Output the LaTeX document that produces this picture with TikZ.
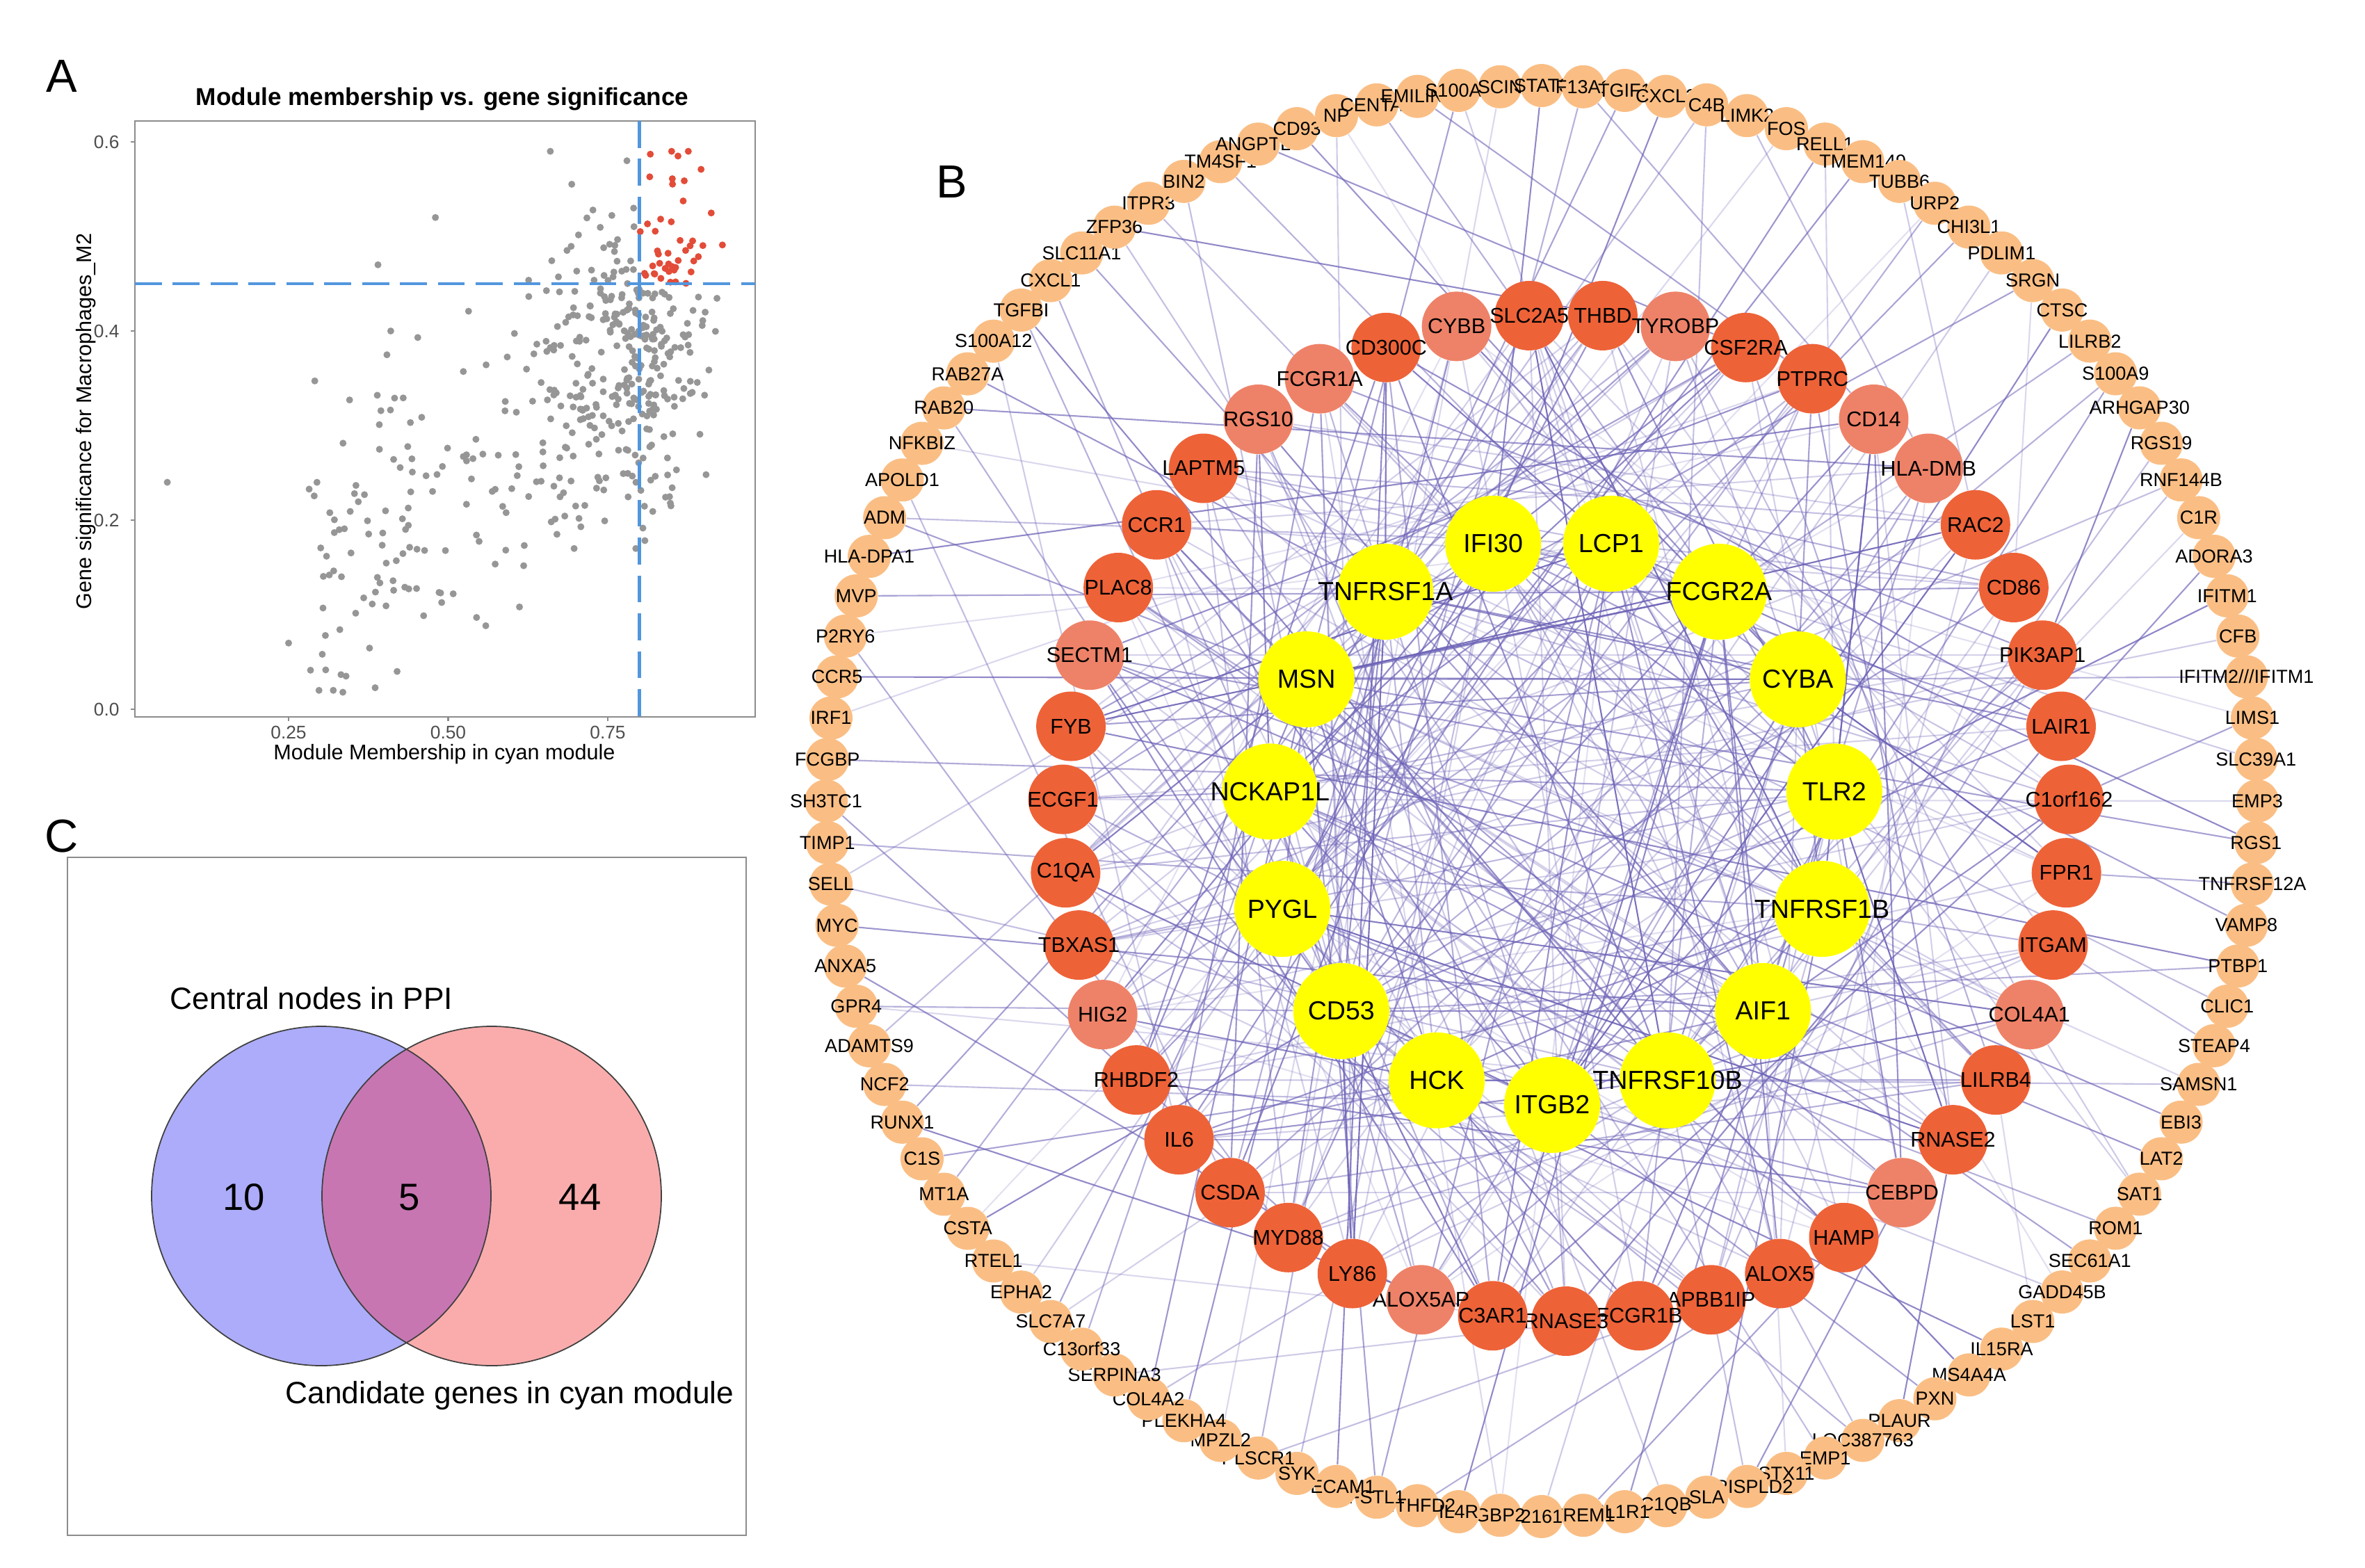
\documentclass[tikz,border=0pt]{standalone}
\usepackage{fontspec}
\setmainfont{Liberation Sans}
\usetikzlibrary{backgrounds, calc}

\definecolor{periphfill}{RGB}{250,190,132}
\definecolor{hubred}{RGB}{238,98,56}
\definecolor{hublight}{RGB}{238,130,104}
\definecolor{coreyellow}{RGB}{255,255,0}
\definecolor{edgepurple}{RGB}{108,98,182}
\definecolor{dotgray}{RGB}{150,150,150}
\definecolor{dotred}{RGB}{226,76,56}
\definecolor{cutblue}{RGB}{82,150,222}
\definecolor{framegray}{RGB}{140,140,140}
\definecolor{ticktext}{RGB}{77,77,77}
\definecolor{vennblue}{RGB}{172,172,250}
\definecolor{vennpink}{RGB}{250,172,172}
\definecolor{vennmix}{RGB}{200,118,178}

\begin{document}
\begin{tikzpicture}[
    x=1cm, y=1cm,
    panel/.style={font=\fontsize{19}{19}\selectfont},
    periph/.style={circle, fill=periphfill, minimum size=0.62cm, inner sep=0pt},
    periphtext/.style={font=\fontsize{7.7}{8}\selectfont, inner sep=0pt},
    hub/.style={circle, fill=hubred, minimum size=1.0cm, inner sep=0pt},
    hubtext/.style={font=\fontsize{8.7}{9}\selectfont, inner sep=0pt},
    core/.style={circle, fill=coreyellow, minimum size=1.38cm, inner sep=0pt},
    coretext/.style={font=\fontsize{10.7}{11}\selectfont, inner sep=0pt},
    ppiedge/.style={draw=edgepurple, line width=0.6pt},
    ticklab/.style={font=\fontsize{7.5}{8}\selectfont, text=ticktext},
    axislab/.style={font=\fontsize{8.7}{9}\selectfont},
    cutline/.style={draw=cutblue, line width=1.4pt, dash pattern=on 11pt off 4.5pt},
    venntext/.style={font=\fontsize{12.6}{13}\selectfont},
    vennnum/.style={font=\fontsize{15.5}{16}\selectfont},
]
\useasboundingbox (0,0) rectangle (34.01,-22.55);

% Panel letters
\node[panel] (letA) at (0.89,-1.10) {A};
\node[panel] (letB) at (13.69,-2.62) {B};
\node[panel] (letC) at (0.89,-12.03) {C};

% ---------------- Panel A: scatter ----------------
\node[font=\fontsize{10}{10}\selectfont\bfseries] (atitle) at (6.36,-1.42) {Module membership vs. gene significance};
\draw[framegray, line width=0.6pt] (1.94,-1.74) rectangle (10.86,-10.31);
\foreach \v/\t in {0.0/0.0, 0.2/0.2, 0.4/0.4, 0.6/0.6}{
  \draw[framegray, line width=0.6pt] (1.94,{-10.2+13.6*\v}) -- (1.88,{-10.2+13.6*\v});
  \node[ticklab, anchor=east] (ytick\t) at (1.84,{-10.2+13.6*\v}) {\t};
}
\foreach \v in {0.25, 0.50, 0.75}{
  \draw[framegray, line width=0.6pt] ({1.855+9.18*\v},-10.31) -- ({1.855+9.18*\v},-10.37);
  \node[ticklab] (xtick\v) at ({1.855+9.18*\v},-10.53) {\v};
}
\node[axislab] (xlab) at (6.39,-10.85) {Module Membership in cyan module};
\node[axislab, rotate=90] (ylab) at (1.24,-6.06) {Gene significance for Macrophages\_M2};

% points
\pgfmathsetseed{2718}
\foreach \n in {1,...,150}{
  \pgfmathsetmacro\mx{0.28+0.42*rnd}
  \pgfmathsetmacro\my{max(0.02,min(0.59,0.03+0.43*\mx+0.16*(rnd+rnd+rnd-1.5)))}
  \fill[dotgray] ({1.855+9.18*\mx},{-10.2+13.6*\my}) circle (0.05);
}
\foreach \n in {1,...,350}{
  \pgfmathsetmacro\mx{0.64+0.15*(rnd+rnd)}
  \pgfmathsetmacro\my{max(0.17,min(0.59,0.04+0.43*\mx+0.17*(rnd+rnd+rnd-1.5)))}
  \pgfmathsetmacro\isred{and(\mx>0.8,\my>0.45)}
  \ifdim\isred pt>0.5pt \def\dotcol{dotred}\else\def\dotcol{dotgray}\fi
  \fill[\dotcol] ({1.855+9.18*\mx},{-10.2+13.6*\my}) circle (0.05);
}
\foreach \mx/\my in {0.06/0.24, 0.25/0.07, 0.32/0.02, 0.335/0.018, 0.34/0.035, 0.42/0.04, 0.48/0.52, 0.39/0.47, 0.41/0.40, 0.66/0.59, 0.78/0.58, 0.85/0.59, 0.86/0.585}{
  \pgfmathsetmacro\isred{and(\mx>0.8,\my>0.45)}
  \ifdim\isred pt>0.5pt \def\dotcol{dotred}\else\def\dotcol{dotgray}\fi
  \fill[\dotcol] ({1.855+9.18*\mx},{-10.2+13.6*\my}) circle (0.05);
}
\draw[cutline] (9.199,-1.74) -- (9.199,-10.31);
\draw[cutline] (1.94,-4.08) -- (10.86,-4.08);

% ---------------- Panel C: Venn ----------------
\draw[framegray, line width=0.6pt] (0.97,-12.33) rectangle (10.73,-22.08);
\fill[vennblue] (4.62,-17.20) circle (2.44);
\fill[vennpink] (7.07,-17.20) circle (2.44);
\begin{scope}
  \clip (4.62,-17.20) circle (2.44);
  \fill[vennmix] (7.07,-17.20) circle (2.44);
\end{scope}
\draw[black!75, line width=0.5pt] (4.62,-17.20) circle (2.44);
\draw[black!75, line width=0.5pt] (7.07,-17.20) circle (2.44);
\node[vennnum] (nleft) at (3.51,-17.22) {10};
\node[vennnum] (nmid) at (5.89,-17.22) {5};
\node[vennnum] (nright) at (8.34,-17.22) {44};
\node[venntext] (setppi) at (4.48,-14.36) {Central nodes in PPI};
\node[venntext] (setcyan) at (7.33,-20.07) {Candidate genes in cyan module};

% ---------------- Panel B: PPI network ----------------
\coordinate (ringc) at (22.17,-11.52);
\coordinate (hubc) at (22.52,-11.76);
\coordinate (corec) at (22.32,-11.81);

% Outer ring
\foreach \gene [count=\i] in {TGFBI, CXCL1, SLC11A1, ZFP36, ITPR3, BIN2, TM4SF1, ANGPTL4, CD93, NP, CENTA2, EMILIN1, S100A8, SCIN, STAT3, F13A1, TGIF1, CXCL2, C4B, LIMK2, FOS, RELL1, TMEM149, TUBB6, URP2, CHI3L1, PDLIM1, SRGN, CTSC, LILRB2, S100A9, ARHGAP30, RGS19, RNF144B, C1R, ADORA3, IFITM1, CFB, IFITM2///IFITM1, LIMS1, SLC39A1, EMP3, RGS1, TNFRSF12A, VAMP8, PTBP1, CLIC1, STEAP4, SAMSN1, EBI3, LAT2, SAT1, ROM1, SEC61A1, GADD45B, LST1, IL15RA, MS4A4A, PXN, PLAUR, LOC387763, EMP1, STX11, CRISPLD2, SLA, C1QB, IL1R1, TREM1, 2161, GBP2, IL4R, MTHFD2, FSTL1, PECAM1, SYK, PLSCR1, MPZL2, PLEKHA4, COL4A2, SERPINA3, C13orf33, SLC7A7, EPHA2, RTEL1, CSTA, MT1A, C1S, RUNX1, NCF2, ADAMTS9, GPR4, ANXA5, MYC, SELL, TIMP1, SH3TC1, FCGBP, IRF1, CCR5, P2RY6, MVP, HLA-DPA1, ADM, APOLD1, NFKBIZ, RAB20, RAB27A, S100A12}{
  \pgfmathsetmacro\ang{136.667-(\i-1)*3.3333}
  \node[periph, label={[periphtext]center:\gene}] (o\i) at ($(ringc)+(\ang:10.29)$) {};
}

% Middle ring
\foreach \gene/\shade [count=\j] in {THBD/hubred, TYROBP/hublight, CSF2RA/hubred, PTPRC/hubred, CD14/hublight, HLA-DMB/hublight, RAC2/hubred, CD86/hubred, PIK3AP1/hubred, LAIR1/hubred, C1orf162/hubred, FPR1/hubred, ITGAM/hubred, COL4A1/hublight, LILRB4/hubred, RNASE2/hubred, CEBPD/hublight, HAMP/hubred, ALOX5/hubred, APBB1IP/hubred, FCGR1B/hubred, RNASE3/hubred, C3AR1/hubred, ALOX5AP/hublight, LY86/hubred, MYD88/hubred, CSDA/hubred, IL6/hubred, RHBDF2/hubred, HIG2/hublight, TBXAS1/hubred, C1QA/hubred, ECGF1/hubred, FYB/hubred, SECTM1/hublight, PLAC8/hubred, CCR1/hubred, LAPTM5/hubred, RGS10/hublight, FCGR1A/hublight, CD300C/hubred, CYBB/hublight, SLC2A5/hubred}{
  \pgfmathsetmacro\ang{85.814-(\j-1)*8.3721}
  \node[hub, fill=\shade, label={[hubtext]center:\gene}] (r\j) at ($(hubc)+(\ang:7.24)$) {};
}

% Inner ring
\foreach \gene [count=\k] in {IFI30, LCP1, FCGR2A, CYBA, TLR2, TNFRSF1B, AIF1, TNFRSF10B, ITGB2, HCK, CD53, PYGL, NCKAP1L, MSN, TNFRSF1A}{
  \pgfmathsetmacro\ang{102-(\k-1)*24}
  \node[core, label={[coretext]center:\gene}] (y\k) at ($(corec)+(\ang:4.08)$) {};
}

% Interactions
\begin{scope}[on background layer]
  \foreach \i in {1,3,...,107}{
    \pgfmathtruncatemacro\ta{mod(\i*7,15)+1}
    \pgfmathsetmacro\op{0.25+0.5*mod(\i*13,7)/6}
    \draw[ppiedge, draw opacity=\op] (o\i) -- (y\ta);
  }
  \foreach \i in {2,4,...,108}{
    \pgfmathtruncatemacro\tb{mod(\i*11,43)+1}
    \pgfmathsetmacro\op{0.25+0.5*mod(\i*5,7)/6}
    \draw[ppiedge, draw opacity=\op] (o\i) -- (r\tb);
  }
  \foreach \i in {1,4,...,106}{
    \pgfmathtruncatemacro\ta{mod(\i*4+6,15)+1}
    \pgfmathsetmacro\op{0.2+0.4*mod(\i*3,5)/4}
    \draw[ppiedge, draw opacity=\op] (o\i) -- (y\ta);
  }
  \foreach \j in {1,...,43}{
    \pgfmathtruncatemacro\ya{mod(\j*4,15)+1}
    \pgfmathtruncatemacro\yb{mod(\j*7+5,15)+1}
    \pgfmathtruncatemacro\yc{mod(\j*2+9,15)+1}
    \pgfmathtruncatemacro\ra{mod(\j+11,43)+1}
    \pgfmathtruncatemacro\rb{mod(\j+9+mod(\j*7,17),43)+1}
    \pgfmathsetmacro\op{0.3+0.6*mod(\j*5,9)/8}
    \pgfmathsetmacro\oq{0.2+0.5*mod(\j*7,6)/5}
    \draw[ppiedge, draw opacity=\op] (r\j) -- (y\ya);
    \draw[ppiedge, draw opacity=\oq] (r\j) -- (y\yb);
    \draw[ppiedge, draw opacity=\op] (r\j) -- (y\yc);
    \draw[ppiedge, draw opacity=\oq] (r\j) -- (r\ra);
    \draw[ppiedge, draw opacity=0.3] (r\j) -- (r\rb);
  }
  \foreach \k in {1,...,15}{
    \pgfmathtruncatemacro\ya{mod(\k+3,15)+1}
    \pgfmathtruncatemacro\yb{mod(\k+4+mod(\k,2),15)+1}
    \pgfmathtruncatemacro\yc{mod(\k+1,15)+1}
    \draw[ppiedge, draw opacity=0.7] (y\k) -- (y\ya);
    \draw[ppiedge, draw opacity=0.45] (y\k) -- (y\yb);
    \draw[ppiedge, draw opacity=0.6] (y\k) -- (y\yc);
  }
\end{scope}

\end{tikzpicture}
\end{document}
